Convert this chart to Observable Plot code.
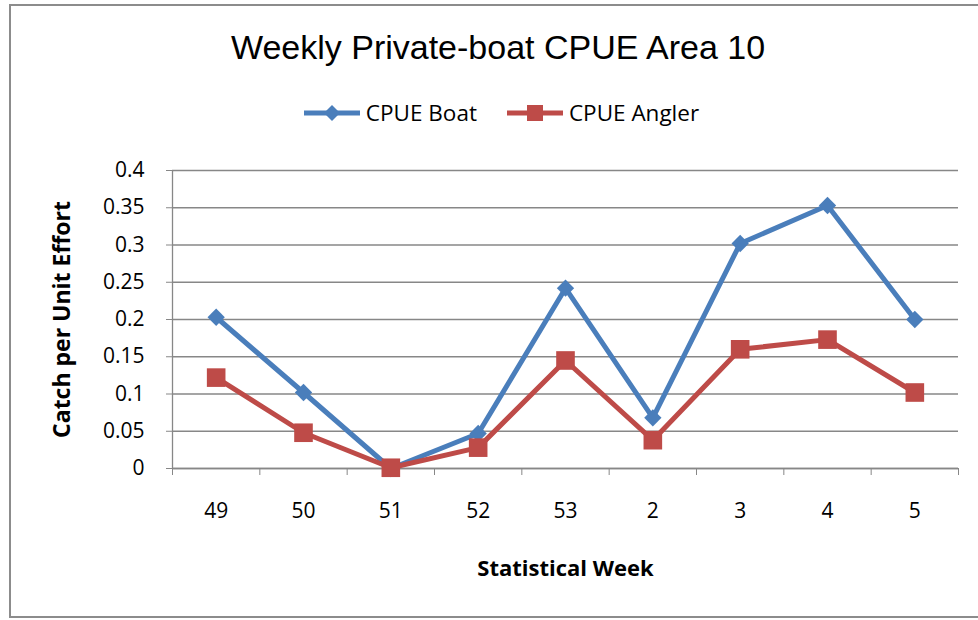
<!DOCTYPE html>
<html><head><meta charset="utf-8">
<script src="https://cdn.jsdelivr.net/npm/d3@7"></script>
<script src="https://cdn.jsdelivr.net/npm/@observablehq/plot@0.6"></script>
<style>
body{margin:0;background:#fff;}
#wrap{position:relative;width:978px;height:620px;overflow:hidden;font-family:"Open Sans",sans-serif;color:#000;}
#frame{position:absolute;left:9px;top:4px;width:990px;height:614px;border:2px solid #8c8c8c;box-sizing:border-box;}
#title{position:absolute;left:0;width:996px;top:27px;text-align:center;font-family:"Liberation Sans",Arial,sans-serif;font-size:34px;line-height:40px;}
#legend{position:absolute;left:0;width:1003px;top:97px;display:flex;justify-content:center;align-items:center;gap:30px;font-size:22.5px;}
.item{display:flex;align-items:center;gap:6px;}
#chart{position:absolute;left:0;top:0;}
</style></head>
<body>
<div id="wrap">
  <div id="frame"></div>
  <div id="title">Weekly Private-boat CPUE Area 10</div>
  <div id="legend"></div>
  <div id="chart"></div>
</div>
<script>
const weeks = ["49","50","51","52","53","2","3","4","5"];
const cpueBoat = [0.203, 0.102, 0.0, 0.047, 0.242, 0.068, 0.302, 0.353, 0.200];
const cpueAngler = [0.122, 0.048, 0.001, 0.028, 0.145, 0.038, 0.160, 0.173, 0.102];
const yTicks = [0, 0.05, 0.1, 0.15, 0.2, 0.25, 0.3, 0.35, 0.4];
const seriesNames = ["CPUE Boat", "CPUE Angler"];
const colors = ["#4A7EBB", "#BE4B48"];
const yLabel = "Catch per Unit Effort";
const xLabel = "Statistical Week";

const boatData = weeks.map((w, i) => ({i, week: w, v: cpueBoat[i]}));
const anglerData = weeks.map((w, i) => ({i, week: w, v: cpueAngler[i]}));
const centers = d3.range(weeks.length);
const bounds = d3.range(weeks.length + 1).map(k => k - 0.5);
const grey = "#878787";

const plot = Plot.plot({
  width: 978,
  height: 620,
  marginTop: 170,
  marginBottom: 152,
  marginLeft: 172,
  marginRight: 20,
  style: {fontFamily: "'Open Sans', sans-serif", fontSize: "21px", color: "#000", background: "transparent"},
  x: {type: "linear", domain: [-0.5, weeks.length - 0.5]},
  y: {domain: [0, 0.4]},
  marks: [
    Plot.gridY(yTicks, {stroke: grey, strokeOpacity: 1, strokeWidth: 1.3}),
    Plot.ruleX([-0.5], {stroke: grey, strokeWidth: 1.3}),
    Plot.ruleY([0], {stroke: grey, strokeWidth: 1.3}),
    Plot.axisY(yTicks, {tickSize: 6, tickPadding: 22, stroke: grey, fill: "#000", tickFormat: d => String(d), label: null, fontSize: 21}),
    Plot.axisX(bounds, {tickSize: 7, stroke: grey, tickFormat: () => "", label: null}),
    Plot.axisX(centers, {tickSize: 0, tickPadding: 35, fill: "#000", tickFormat: i => weeks[i], label: null, fontSize: 21}),
    Plot.text([yLabel], {frameAnchor: "left", textAnchor: "middle", dx: -110, rotate: -90, fontWeight: "bold", fontSize: 23, fill: "#000"}),
    Plot.text([xLabel], {frameAnchor: "bottom", dy: 107, fontWeight: "bold", fontSize: 22, fill: "#000"}),
    Plot.line(boatData, {x: "i", y: "v", stroke: colors[0], strokeWidth: 5, strokeLinejoin: "round"}),
    Plot.dot(boatData, {x: "i", y: "v", symbol: "diamond2", r: 7.8, fill: colors[0], stroke: "none"}),
    Plot.line(anglerData, {x: "i", y: "v", stroke: colors[1], strokeWidth: 5, strokeLinejoin: "round"}),
    Plot.dot(anglerData, {x: "i", y: "v", symbol: "square", r: 10.5, fill: colors[1], stroke: "none"})
  ]
});
document.getElementById("chart").appendChild(plot);

// legend
const legend = document.getElementById("legend");
const symbolsL = ["diamond", "square"];
seriesNames.forEach((name, k) => {
  const item = document.createElement("div");
  item.className = "item";
  const mk = symbolsL[k] === "diamond"
    ? `<path d="M28,4 L36,12 L28,20 L20,12 Z" fill="${colors[k]}"/>`
    : `<rect x="20" y="4" width="16" height="16" fill="${colors[k]}"/>`;
  item.innerHTML = `<svg width="56" height="24"><line x1="0" y1="12" x2="56" y2="12" stroke="${colors[k]}" stroke-width="5"/>${mk}</svg><span>${name}</span>`;
  legend.appendChild(item);
});
</script>
</body></html>
